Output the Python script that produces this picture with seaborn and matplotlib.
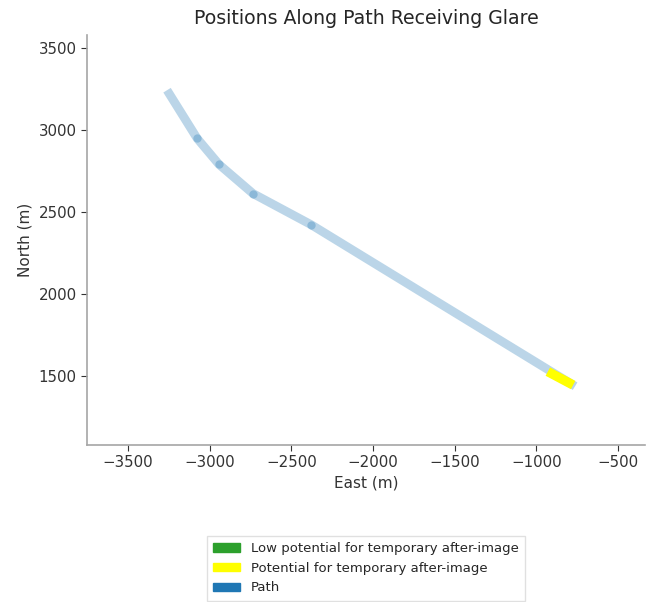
import matplotlib
matplotlib.use("Agg")
import matplotlib.pyplot as plt
from matplotlib.patches import Patch
import numpy as np
import pandas as pd
import seaborn as sns

# Path vertices (east, north) in metres
path_east = [-3261, -3077, -2943, -2735, -2379, -763]
path_north = [3243, 2949, 2790, 2612, 2422, 1436]

# Stretch of the path that receives glare
glare_east = [-930, -775]
glare_north = [1525, 1443]

legend_labels = [
    "Low potential for temporary after-image",
    "Potential for temporary after-image",
    "Path",
]
legend_colors = ["#2ca02c", "#ffff00", "#1f77b4"]

sns.set_style("ticks")
plt.rcParams["font.family"] = ["DejaVu Sans"]

fig = plt.figure(figsize=(6.48, 6.02), dpi=100)
ax = fig.add_axes([87 / 648, 1 - 445 / 602, 558 / 648, 410 / 602])

path_df = pd.DataFrame({"east": path_east, "north": path_north})
glare_df = pd.DataFrame({"east": glare_east, "north": glare_north})

sns.lineplot(data=path_df, x="east", y="north", sort=False, estimator=None,
             color="#1f77b4", alpha=0.3, linewidth=6.3, ax=ax,
             solid_capstyle="butt")
sns.scatterplot(data=path_df.iloc[1:-1], x="east", y="north", color="#1f77b4",
                alpha=0.3, s=36, linewidth=0, ax=ax)
sns.lineplot(data=glare_df, x="east", y="north", sort=False, estimator=None,
             color="#ffff00", linewidth=6.8, ax=ax, solid_capstyle="butt")

ax.set_xlim(-3751, -335)
ax.set_ylim(1077, 3580)
ax.set_xticks([-3500, -3000, -2500, -2000, -1500, -1000, -500])
ax.set_yticks([1500, 2000, 2500, 3000, 3500])
ax.set_xlabel("East (m)", fontsize=11, color="0.2")
ax.set_ylabel("North (m)", fontsize=11, color="0.2")
ax.set_title("Positions Along Path Receiving Glare", fontsize=13.6,
             color="0.15", pad=8)
ax.tick_params(labelsize=10.8, labelcolor="0.2", color="0.2", length=4)
sns.despine(ax=ax)
for side in ("left", "bottom"):
    ax.spines[side].set_color("0.65")
    ax.spines[side].set_linewidth(1.2)

handles = [Patch(facecolor=c, edgecolor=c) for c in legend_colors]
ax.legend(handles, legend_labels, loc="upper center",
          bbox_to_anchor=(0.5, -0.205), fontsize=9.5, frameon=True,
          handlelength=2.05, handleheight=0.6, edgecolor="0.85",
          fancybox=False, labelspacing=0.5, borderpad=0.5)

fig.savefig("out.png", dpi=100)
